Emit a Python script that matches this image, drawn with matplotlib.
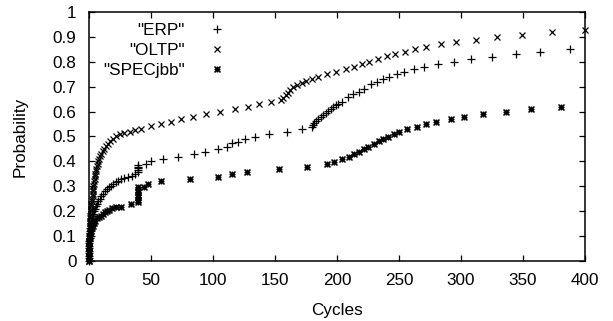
import matplotlib
matplotlib.use("Agg")
import matplotlib.pyplot as plt
from matplotlib.path import Path
from matplotlib.ticker import FormatStrFormatter

plt.rcParams['font.family'] = ['Liberation Sans', 'DejaVu Sans']

# ---- data ----
oltp_x = [0, 0, 0, 0, 0, 0, 0, 0, 0, 0, 0, 0.5, 0.5, 0.5, 0.5, 1, 1, 1, 1, 1.5, 1.5,
          2, 2, 2, 2.5, 2.5, 3, 3, 3, 3.5, 3.5, 4, 4, 4.5, 4.5, 5, 5.5, 6, 6.5, 7, 7.5,
          8, 9, 10, 11, 12, 13.5, 15, 17, 19, 22, 25, 28.5, 33, 37, 41.9, 49.7, 58,
          65.9, 73.9, 83.6, 94.4, 105.6, 117.7, 128, 136.8, 146.5, 155, 156.7, 158.9,
          160.5, 162, 164.8, 168, 171.5, 175, 179.6, 185, 191.7, 199, 207, 214, 220,
          226, 233, 240, 247, 255, 263, 272, 284, 296, 312, 329, 349, 373, 400]
oltp_y = [0.0, 0.01, 0.02, 0.03, 0.04, 0.05, 0.06, 0.07, 0.08, 0.09, 0.10, 0.11, 0.12,
          0.13, 0.14, 0.15, 0.16, 0.17, 0.18, 0.19, 0.20, 0.21, 0.22, 0.23, 0.24, 0.25,
          0.26, 0.27, 0.28, 0.29, 0.30, 0.31, 0.32, 0.33, 0.34, 0.35, 0.36, 0.37, 0.38,
          0.39, 0.40, 0.41, 0.42, 0.43, 0.44, 0.45, 0.46, 0.47, 0.48, 0.49, 0.50, 0.51,
          0.513, 0.519, 0.525, 0.53, 0.544, 0.552, 0.558, 0.569, 0.58, 0.589, 0.599,
          0.611, 0.62, 0.63, 0.64, 0.648, 0.654, 0.667, 0.677, 0.687, 0.698, 0.707,
          0.714, 0.722, 0.731, 0.741, 0.752, 0.761, 0.772, 0.781, 0.792, 0.801, 0.812,
          0.823, 0.832, 0.84, 0.851, 0.862, 0.871, 0.879, 0.89, 0.90, 0.91, 0.92, 0.93]

erp_x = [0, 0, 0, 0, 0, 0, 0, 0.3, 0.3, 0.5, 0.5, 0.8, 0.8, 1, 1.3, 1.6, 2, 2.5, 3,
         3.5, 4.2, 5, 5.7, 6.5, 7.5, 8.5, 10, 11.5, 13, 14.5, 16, 17.5, 19.6, 21.5,
         23.6, 26, 28.5, 31.5, 34.4, 37, 39.2, 39.2, 39.2, 39.2, 39.2, 45.7, 49.7,
         59.9, 71.5, 84.9, 93.8, 103.8, 111.5, 115.6, 119.9, 125.8, 133.9, 145.4,
         159.4, 171.5, 179.6, 180.5, 181.7, 183, 184.9, 187, 189, 191, 193, 195, 197,
         199, 201, 203.8, 209, 213, 218, 222, 227.4, 232, 237, 242, 248, 254.3, 262,
         270.4, 281.7, 294.4, 308, 325, 344, 363.7, 387.9]
erp_y = [0.0, 0.01, 0.02, 0.03, 0.04, 0.05, 0.06, 0.07, 0.08, 0.09, 0.10, 0.11, 0.12,
         0.13, 0.14, 0.15, 0.16, 0.17, 0.18, 0.19, 0.20, 0.21, 0.22, 0.23, 0.24, 0.25,
         0.26, 0.27, 0.28, 0.29, 0.295, 0.30, 0.308, 0.315, 0.322, 0.327, 0.332, 0.337,
         0.341, 0.35, 0.358, 0.365, 0.372, 0.378, 0.385, 0.389, 0.40, 0.409, 0.419,
         0.43, 0.439, 0.45, 0.459, 0.473, 0.479, 0.489, 0.499, 0.51, 0.519, 0.529,
         0.539, 0.546, 0.553, 0.561, 0.569, 0.578, 0.587, 0.596, 0.604, 0.611, 0.618,
         0.625, 0.631, 0.64, 0.658, 0.67, 0.68, 0.69, 0.71, 0.721, 0.73, 0.741, 0.75,
         0.758, 0.77, 0.781, 0.791, 0.799, 0.81, 0.819, 0.832, 0.839, 0.851]

spec_x = [0, 0, 0, 0, 0, 0, 0, 0, 0.3, 0.5, 0.8, 1, 1.5, 2.2, 3, 4, 5, 6.5, 8, 9.5,
          11, 12.5, 14.2, 16.5, 18.8, 22, 25.5, 33.6, 39.7, 39.7, 39.7, 39.7, 39.7,
          39.7, 39.7, 44.4, 47.8, 57.8, 81.5, 103.8, 115.6, 127.7, 153.5, 175.5,
          191.7, 197.7, 203.8, 209.9, 214, 218, 222, 225.3, 230, 234, 236.9, 240.9,
          246, 250, 256.2, 264.2, 271.8, 279.8, 292, 302.7, 318, 336, 356.5, 381]
spec_y = [0.0, 0.01, 0.02, 0.03, 0.04, 0.05, 0.06, 0.07, 0.08, 0.09, 0.10, 0.11, 0.12,
          0.13, 0.14, 0.15, 0.16, 0.17, 0.175, 0.18, 0.19, 0.195, 0.20, 0.205, 0.211,
          0.215, 0.218, 0.229, 0.235, 0.245, 0.255, 0.265, 0.275, 0.285, 0.295, 0.298,
          0.309, 0.321, 0.329, 0.338, 0.35, 0.358, 0.369, 0.378, 0.389, 0.399, 0.409,
          0.419, 0.43, 0.439, 0.45, 0.459, 0.47, 0.482, 0.49, 0.499, 0.509, 0.519,
          0.529, 0.539, 0.549, 0.56, 0.569, 0.58, 0.589, 0.60, 0.609, 0.62]

labels = ['"ERP"', '"OLTP"', '"SPECjbb"']
x_ticks = [0, 50, 100, 150, 200, 250, 300, 350, 400]
y_ticks = [0, 0.1, 0.2, 0.3, 0.4, 0.5, 0.6, 0.7, 0.8, 0.9, 1]

# gnuplot-like asterisk (plus + cross)
star = Path([(-1, 0), (1, 0), (0, -1), (0, 1), (-1, -1), (1, 1), (-1, 1), (1, -1)],
            [Path.MOVETO, Path.LINETO] * 4)

FS = 12.3

fig = plt.figure(figsize=(6.13, 3.21), dpi=100)
ax = fig.add_axes([89 / 613, 1 - 260.7 / 321, 496 / 613, 248.4 / 321])

kw = dict(linestyle='none', color='black', clip_on=False)
ax.plot(erp_x, erp_y, marker='+', markersize=5.5, markeredgewidth=0.9, label=labels[0], **kw)
ax.plot(oltp_x, oltp_y, marker='x', markersize=4.3, markeredgewidth=0.9, label=labels[1], **kw)
ax.plot(spec_x, spec_y, marker=star, markersize=4.3, markeredgewidth=1.1, label=labels[2], **kw)

ax.set_xlim(0, 400)
ax.set_ylim(0, 1)
ax.set_xticks(x_ticks)
ax.set_yticks(y_ticks)
ax.yaxis.set_major_formatter(FormatStrFormatter('%g'))
ax.tick_params(direction='in', top=True, right=True, length=4, width=0.9,
               labelsize=FS)
ax.tick_params(axis='x', pad=8.5)
ax.tick_params(axis='y', pad=9)
for s in ax.spines.values():
    s.set_linewidth(1.1)

ax.set_xlabel('Cycles', fontsize=FS, labelpad=11)
ax.set_ylabel('Probability', fontsize=FS, labelpad=18)

ax.legend(loc='upper right', bbox_to_anchor=(0.284, 0.958), frameon=False,
          markerfirst=False, handlelength=1.5, handletextpad=1.12,
          borderpad=0, borderaxespad=0, labelspacing=0.29, fontsize=FS)

fig.savefig('out.png', dpi=100)
